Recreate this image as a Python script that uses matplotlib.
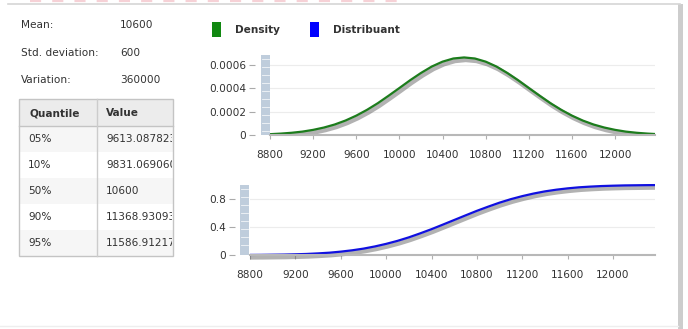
import matplotlib
matplotlib.use('Agg')
import matplotlib.pyplot as plt
import matplotlib.patheffects as pe
from matplotlib.patches import Rectangle
from matplotlib.transforms import Bbox, TransformedBbox

# ---- values ----
stat_labels = ['Mean:', 'Std. deviation:', 'Variation:']
stat_values = ['10600', '600', '360000']

quantiles = ['05%', '10%', '50%', '90%', '95%']
quantile_values = ['9613.087823', '9831.069060', '10600', '11368.930939', '11586.912177']

x_vals = [8800, 8900, 9000, 9100, 9200, 9300, 9400, 9500, 9600, 9700,
          9800, 9900, 10000, 10100, 10200, 10300, 10400, 10500, 10600,
          10700, 10800, 10900, 11000, 11100, 11200, 11300, 11400, 11500,
          11600, 11700, 11800, 11900, 12000, 12100, 12200, 12300, 12400]

# density, in units of 1e-4
density = [0.07, 0.12, 0.19, 0.29, 0.44, 0.64, 0.90, 1.24, 1.66, 2.16,
           2.73, 3.37, 4.03, 4.70, 5.32, 5.87, 6.29, 6.56, 6.65,
           6.56, 6.29, 5.87, 5.32, 4.70, 4.03, 3.37, 2.73, 2.16,
           1.66, 1.24, 0.90, 0.64, 0.44, 0.29, 0.19, 0.12, 0.07]

distribuant = [0.001, 0.002, 0.004, 0.006, 0.010, 0.015, 0.023, 0.033, 0.048, 0.067,
               0.091, 0.122, 0.159, 0.202, 0.252, 0.309, 0.369, 0.434, 0.500,
               0.566, 0.631, 0.691, 0.748, 0.798, 0.841, 0.878, 0.909, 0.933,
               0.952, 0.967, 0.977, 0.985, 0.990, 0.994, 0.996, 0.998, 0.999]

x_ticks = [8800, 9200, 9600, 10000, 10400, 10800, 11200, 11600, 12000]
dens_ticks = [0, 0.0002, 0.0004, 0.0006]
dens_ticklabels = ['0', '0.0002', '0.0004', '0.0006']
dist_ticks = [0, 0.4, 0.8]
dist_ticklabels = ['0', '0.4', '0.8']

W, H = 688, 329
TXT = '#333333'

fig = plt.figure(figsize=(W / 100, H / 100), dpi=100)

# background layer in pixel coordinates (panel, table, legend)
bg = fig.add_axes([0, 0, 1, 1], zorder=0)
bg.set_xlim(0, W)
bg.set_ylim(H, 0)
bg.axis('off')

# frame bits of the screenshot
bg.plot([8, 680], [4, 4], color='#d6d6d6', lw=1.2)
bg.plot([30, 400], [1.0, 1.0], color='#f4c6cc', lw=1.6, ls=(0, (5, 5)), alpha=0.8)
bg.add_patch(Rectangle((678, 4), 5, H, color='#cdcdcd', lw=0))
bg.plot([0, 678], [326, 326], color='#eeeeee', lw=1)

# stats
for i, (lab, val) in enumerate(zip(stat_labels, stat_values)):
    y = 25 + i * 27.5
    bg.text(21, y, lab, fontsize=7.6, color=TXT, va='center')
    bg.text(120, y, val, fontsize=7.6, color=TXT, va='center')

# quantile table
tx0, tx1, ty0, ty1, hy, cx = 19, 173, 99, 256, 126, 97
row_h = (ty1 - hy) / len(quantiles)
bg.add_patch(Rectangle((tx0, ty0), tx1 - tx0, hy - ty0, color='#ececec', lw=0))
for i in range(len(quantiles)):
    if i % 2 == 0:
        bg.add_patch(Rectangle((tx0, hy + i * row_h), tx1 - tx0, row_h, color='#f6f6f6', lw=0))
bg.add_patch(Rectangle((tx0, ty0), tx1 - tx0, ty1 - ty0, fill=False, ec='#c4c4c4', lw=1))
bg.plot([tx0, tx1], [hy, hy], color='#c4c4c4', lw=1)
bg.plot([cx, cx], [ty0, ty1], color='#cccccc', lw=1)
bg.text(29, 113, 'Quantile', fontsize=7.6, fontweight='bold', color=TXT, va='center')
bg.text(106, 113, 'Value', fontsize=7.6, fontweight='bold', color=TXT, va='center')
clip_box = TransformedBbox(Bbox([[cx, hy], [tx1 - 1, ty1]]), bg.transData)
for i, (q, v) in enumerate(zip(quantiles, quantile_values)):
    y = hy + (i + 0.5) * row_h
    bg.text(28, y, q, fontsize=7.6, color=TXT, va='center')
    t = bg.text(106, y, v, fontsize=7.6, color=TXT, va='center')
    t.set_clip_box(clip_box)
    t.set_clip_on(True)

# legend
bg.add_patch(Rectangle((212, 22), 9, 15, color='#118811', lw=0))
bg.text(235, 30, 'Density', fontsize=7.6, fontweight='bold', color=TXT, va='center')
bg.add_patch(Rectangle((310, 22), 9, 15, color='#0000ff', lw=0))
bg.text(333, 30, 'Distribuant', fontsize=7.6, fontweight='bold', color=TXT, va='center')

# grey scroll bars left of each plot
for bx, by0, by1 in [(261, 55, 135), (240, 185, 255)]:
    bg.add_patch(Rectangle((bx, by0), 9, by1 - by0, color='#bfcddc', lw=0))
    y = by0 + 4
    while y < by1 - 2:
        bg.plot([bx + 1, bx + 8], [y, y], color='white', lw=0.6, alpha=0.8)
        y += 8


def px_axes(left, right, top, bottom):
    return fig.add_axes([left / W, 1 - bottom / H, (right - left) / W, (bottom - top) / H], zorder=2)


def style(ax, yt, ytl):
    ax.set_facecolor('none')
    ax.spines['top'].set_visible(False)
    ax.spines['right'].set_visible(False)
    ax.spines['left'].set_position(('outward', 11))
    ax.spines['left'].set_color('none')
    ax.spines['bottom'].set_color('#b8b8b8')
    ax.spines['bottom'].set_linewidth(1.5)
    ax.set_xlim(8800, 12370)
    ax.set_xticks(x_ticks)
    ax.set_yticks(yt)
    ax.set_yticklabels(ytl)
    ax.tick_params(axis='x', length=3, width=0.8, color='#b0b0b0', pad=8,
                   labelsize=7.6, labelcolor=TXT)
    ax.tick_params(axis='y', length=4, width=0.8, color='#aaaaaa', pad=2,
                   labelsize=7.6, labelcolor=TXT)
    ax.grid(axis='y', color='#ececec', lw=0.8)
    ax.set_axisbelow(True)


shadow = [pe.SimpleLineShadow(offset=(1.2, -1.8), shadow_color='#555555', alpha=0.45, linewidth=3.2),
          pe.Normal()]

ax1 = px_axes(270, 655, 55, 135)
style(ax1, dens_ticks, dens_ticklabels)
ax1.set_ylim(0, 0.000686)
ax1.plot(x_vals, [d * 1e-4 for d in density], color='#1c7c1c', lw=1.6,
         path_effects=shadow)

ax2 = px_axes(250, 655, 185, 255)
style(ax2, dist_ticks, dist_ticklabels)
ax2.set_ylim(0, 1.0)
line2, = ax2.plot(x_vals, distribuant, color='#1010e0', lw=1.6, path_effects=shadow)
line2.set_clip_box(TransformedBbox(Bbox([[0, -0.1], [1, 1.1]]), ax2.transAxes))

fig.savefig('out.png', dpi=100)
